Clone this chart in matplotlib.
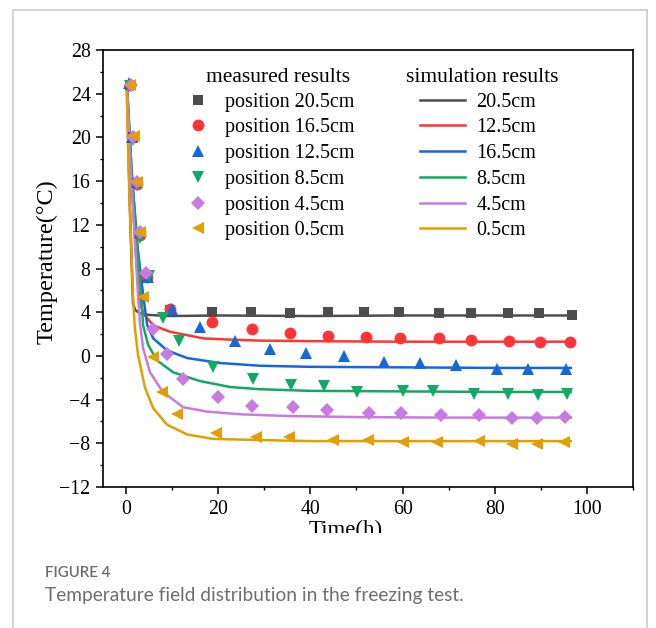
import matplotlib
matplotlib.use("Agg")
import matplotlib.pyplot as plt
from matplotlib.ticker import MultipleLocator
from matplotlib.transforms import Bbox
from matplotlib.lines import Line2D

# ---------------- data ----------------
meas_title = "measured results"
sim_title = "simulation results"
meas_labels = ["position 20.5cm", "position 16.5cm", "position 12.5cm",
               "position 8.5cm", "position 4.5cm", "position 0.5cm"]
sim_labels = ["20.5cm", "12.5cm", "16.5cm", "8.5cm", "4.5cm", "0.5cm"]
colors = ["#4d4d4d", "#ff3535", "#1467de", "#12a865", "#c77be0", "#e39e00"]
markers = ["s", "o", "^", "v", "D", "<"]

# measured results
t_m205 = [0.8, 1.5, 2.3, 3.0, 4.6, 9.6, 18.7, 27.2, 35.6, 43.9, 51.7, 59.2, 67.8, 74.8, 82.8, 89.6, 96.7]
T_m205 = [24.8, 20.0, 15.8, 11.2, 7.2, 4.2, 4.0, 4.0, 3.9, 4.0, 4.0, 4.0, 3.9, 3.9, 3.9, 3.9, 3.75]
t_m165 = [0.8, 1.5, 2.3, 3.0, 4.6, 9.6, 18.7, 27.4, 35.5, 43.9, 52.0, 59.4, 68.0, 74.8, 83.0, 89.8, 96.3]
T_m165 = [24.8, 20.0, 15.7, 11.1, 7.2, 4.3, 3.1, 2.5, 2.1, 1.85, 1.75, 1.65, 1.6, 1.45, 1.35, 1.3, 1.3]
t_m125 = [0.7, 1.4, 2.3, 3.1, 4.8, 10.0, 16.1, 23.7, 31.3, 39.1, 47.2, 55.9, 63.7, 71.5, 80.4, 87.2, 95.4]
T_m125 = [25.0, 20.0, 15.9, 11.3, 7.2, 4.3, 2.6, 1.4, 0.6, 0.3, 0.0, -0.55, -0.65, -0.85, -1.2, -1.2, -1.2]
t_m85 = [0.8, 1.5, 2.4, 3.1, 4.9, 8.1, 11.5, 18.9, 27.6, 35.9, 43.0, 50.2, 60.0, 66.7, 75.4, 82.8, 89.3, 95.6]
T_m85 = [24.7, 19.8, 15.6, 10.8, 7.3, 3.5, 1.4, -1.0, -2.1, -2.7, -2.8, -3.3, -3.2, -3.2, -3.45, -3.45, -3.55, -3.45]
t_m45 = [1.0, 1.6, 2.4, 3.1, 4.3, 5.9, 8.9, 12.4, 20.0, 27.4, 36.2, 43.7, 52.8, 59.6, 68.3, 76.5, 83.7, 89.1, 95.2]
T_m45 = [24.8, 20.0, 15.9, 11.3, 7.6, 2.5, 0.2, -2.1, -3.8, -4.6, -4.7, -4.95, -5.2, -5.2, -5.4, -5.4, -5.7, -5.7, -5.6]
t_m05 = [0.9, 1.7, 2.3, 3.1, 3.7, 5.8, 7.8, 11.1, 19.5, 28.2, 35.3, 44.8, 52.6, 60.0, 67.4, 76.5, 83.7, 89.1, 95.0]
T_m05 = [24.8, 20.1, 15.9, 11.3, 5.4, -0.1, -3.3, -5.3, -7.1, -7.4, -7.4, -7.7, -7.7, -7.9, -7.9, -7.8, -8.1, -8.1, -7.9]

# simulation results
t_s205 = [0.2, 0.8, 1.5, 2.0, 3.0, 5.0, 9.6, 20, 40, 60, 80, 97]
T_s205 = [24.8, 14.0, 4.8, 4.2, 3.9, 3.75, 3.65, 3.7, 3.65, 3.7, 3.7, 3.7]
t_s125 = [0.2, 1.2, 2.2, 2.8, 3.7, 5.9, 9.6, 16.8, 22, 29, 40, 60, 80, 96.5]
T_s125 = [24.8, 16.0, 9.0, 5.5, 3.9, 2.8, 2.2, 1.6, 1.5, 1.4, 1.35, 1.3, 1.3, 1.3]
t_s165 = [0.2, 1.2, 2.5, 3.7, 4.6, 5.9, 8.9, 13.3, 20.4, 29, 40, 60, 80, 96.5]
T_s165 = [24.8, 17.0, 10.0, 5.6, 2.8, 1.6, 0.5, -0.2, -0.65, -0.9, -1.0, -1.05, -1.1, -1.1]
t_s85 = [0.2, 1.2, 2.4, 3.3, 3.7, 4.8, 6.7, 10.2, 16.0, 22.6, 29, 40, 60, 80, 96.5]
T_s85 = [24.8, 17.0, 10.0, 5.6, 2.8, 1.0, -0.4, -1.5, -2.3, -2.85, -3.05, -3.2, -3.25, -3.3, -3.3]
t_s45 = [0.2, 1.0, 2.0, 2.6, 3.0, 3.7, 5.2, 8.0, 12.4, 17.6, 25, 35, 50, 70, 96.5]
T_s45 = [24.8, 17.0, 10.0, 5.6, 3.1, 0.7, -1.5, -3.3, -4.7, -5.1, -5.35, -5.5, -5.6, -5.65, -5.65]
t_s05 = [0.1, 0.7, 1.5, 1.9, 2.6, 4.1, 5.9, 8.9, 13.3, 18.9, 29, 40, 60, 80, 96.5]
T_s05 = [24.8, 15.0, 5.6, 2.6, 0.1, -2.9, -4.8, -6.3, -7.2, -7.6, -7.7, -7.8, -7.8, -7.8, -7.8]

xticks = [0, 20, 40, 60, 80, 100]
yticks = [-12, -8, -4, 0, 4, 8, 12, 16, 20, 24, 28]
yticklabels = ["\u221212", "\u22128", "\u22124", "0", "4", "8", "12", "16", "20", "24", "28"]

meas = [(t_m205, T_m205), (t_m165, T_m165), (t_m125, T_m125),
        (t_m85, T_m85), (t_m45, T_m45), (t_m05, T_m05)]
sims = [(t_s205, T_s205), (t_s125, T_s125), (t_s165, T_s165),
        (t_s85, T_s85), (t_s45, T_s45), (t_s05, T_s05)]

# ---------------- figure ----------------
SERIF = ["Liberation Serif", "DejaVu Serif"]
W, H = 656, 628
plt.rcParams["font.family"] = SERIF
fig = plt.figure(figsize=(W / 100, H / 100), dpi=100)
fig.patch.set_facecolor("white")

ax_l, ax_r, ax_t, ax_b = 103, 633, 50, 487
ax = fig.add_axes([ax_l / W, 1 - ax_b / H, (ax_r - ax_l) / W, (ax_b - ax_t) / H])

def ax_x(px):
    return (px - ax_l) / (ax_r - ax_l)

def ax_y(py):
    return (ax_b - py) / (ax_b - ax_t)

for (t, T), c in zip(sims, colors):
    ax.plot(t, T, color=c, lw=1.8, zorder=2)

msizes = [7.5, 8.5, 9, 9, 7.5, 9]
for (t, T), c, m, ms in zip(meas, colors, markers, msizes):
    ax.plot(t, T, linestyle="none", marker=m, color=c, markersize=ms,
            markeredgewidth=0, zorder=3)

ax.set_xlim(-5, 110)
ax.set_ylim(-12, 28)
ax.set_xticks(xticks)
ax.set_xticklabels([str(v) for v in xticks])
ax.set_yticks(yticks)
ax.set_yticklabels(yticklabels)
ax.xaxis.set_minor_locator(MultipleLocator(10))
ax.yaxis.set_minor_locator(MultipleLocator(2))
ax.tick_params(which="major", direction="out", length=5, width=1.1,
               labelsize=14.3, pad=4, top=False, right=False, colors="black")
ax.tick_params(which="minor", direction="out", length=2.5, width=1.0,
               top=False, right=False)
for lbl in ax.get_xticklabels() + ax.get_yticklabels():
    lbl.set_fontfamily(SERIF)
for s in ax.spines.values():
    s.set_linewidth(1.2)

# legends
mh = [Line2D([], [], linestyle="none", marker=m, color=c, markersize=ms, markeredgewidth=0)
      for m, c, ms in zip(markers, colors, msizes)]
lh = [Line2D([], [], color=c, lw=1.8) for c in colors]
common = dict(loc="upper left", frameon=False, fontsize=14.5,
              labelspacing=0.33, borderpad=0, borderaxespad=0)
ytop = ax_y(92.5)
leg1 = ax.legend(mh, meas_labels, bbox_to_anchor=(ax_x(182), ytop),
                 handlelength=1.6, handletextpad=0.55, **common)
ax.add_artist(leg1)
leg2 = ax.legend(lh, sim_labels, bbox_to_anchor=(ax_x(420), ytop),
                 handlelength=2.25, handletextpad=0.55, **common)
for lg in (leg1, leg2):
    for tx in lg.get_texts():
        tx.set_fontfamily(SERIF)

ax.text(ax_x(278), ax_y(77), meas_title, transform=ax.transAxes, ha="center",
        va="center", fontsize=15.5, family=SERIF)
ax.text(ax_x(482), ax_y(77), sim_title, transform=ax.transAxes, ha="center",
        va="center", fontsize=15.5, family=SERIF)

# axis labels
fig.text(47 / W, 1 - 262 / H, "Temperature(\u00b0C)", rotation=90, ha="center",
         va="center", fontsize=17.5, family=SERIF)
xl = fig.text(346 / W, 1 - 536 / H, "Time(h)", ha="center", va="baseline",
              fontsize=16.5, family=SERIF)
xl.set_clip_box(Bbox.from_extents(0, H - 533, W, H))
xl.set_clip_on(True)

# card border
card = "#cfcfcf"
for xs, ys in [([13, 13], [628, 10]), ([647, 647], [628, 10]), ([13, 647], [10, 10])]:
    fig.add_artist(Line2D([x / W for x in xs], [1 - y / H for y in ys], color=card,
                          lw=1.3, transform=fig.transFigure))

# caption
fig.text(45 / W, 1 - 573 / H, "FIGURE 4", ha="left", va="center", fontsize=10.8,
         color="#6b6b6b", family=["Lato", "DejaVu Sans"], fontweight="semibold")
fig.text(45 / W, 1 - 595 / H, "Temperature field distribution in the freezing test.",
         ha="left", va="center", fontsize=13.8, color="#6e6e6e",
         family=["Lato", "DejaVu Sans"])

fig.savefig("out.png", dpi=100, facecolor="white")
